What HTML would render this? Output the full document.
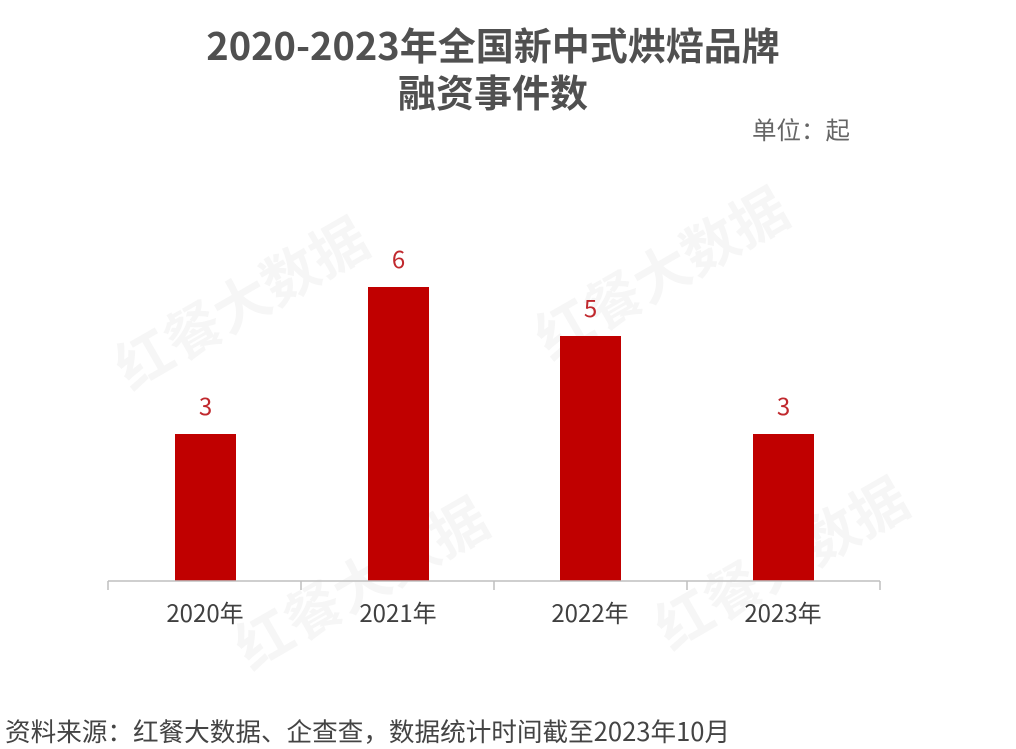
<!DOCTYPE html>
<html><head><meta charset="utf-8"><style>
body{margin:0;width:1016px;height:748px;background:#fff;position:relative;overflow:hidden;font-family:"Noto Sans CJK SC","Liberation Sans",sans-serif}
.t{position:absolute;left:0;width:986px;text-align:center;font-weight:bold;font-size:38px;line-height:46px;color:#505050}
.a{position:absolute;font-size:24px;line-height:30px;color:#444;white-space:nowrap}
.bar{position:absolute;background:#c00000;width:61px}
.v{position:absolute;width:61px;text-align:center;font-size:24px;line-height:30px;color:#c0282d}
.x{position:absolute;width:160px;text-align:center;font-size:24px;line-height:30px;color:#404040}
.wm{position:absolute;font-size:56px;font-weight:bold;color:rgba(0,0,0,0.035);transform:rotate(-30deg)}
</style></head><body>
<div class="wm" style="left:100px;top:260px">红餐大数据</div>
<div class="wm" style="left:520px;top:230px">红餐大数据</div>
<div class="wm" style="left:220px;top:540px">红餐大数据</div>
<div class="wm" style="left:640px;top:520px">红餐大数据</div>
<div class="t" style="top:21px">2020-2023年全国新中式烘焙品牌</div>
<div class="t" style="top:68px">融资事件数</div>
<div class="a" style="left:752px;top:115px;color:#666;font-size:24.5px">单位：起</div>
<div class="bar" style="left:175px;top:434px;height:147px"></div>
<div class="bar" style="left:368px;top:287px;height:294px"></div>
<div class="bar" style="left:560px;top:336px;height:245px"></div>
<div class="bar" style="left:753px;top:434px;height:147px"></div>
<div class="v" style="left:175px;top:390px">3</div>
<div class="v" style="left:368px;top:243px">6</div>
<div class="v" style="left:560px;top:292px">5</div>
<div class="v" style="left:753px;top:390px">3</div>
<svg style="position:absolute;left:0;top:0" width="1016" height="748">
<g stroke="#bfbfbf" stroke-width="1.5"><line x1="108" y1="581" x2="880" y2="581"/>
<line x1="108" y1="581" x2="108" y2="590"/><line x1="301" y1="581" x2="301" y2="590"/><line x1="494" y1="581" x2="494" y2="590"/><line x1="687" y1="581" x2="687" y2="590"/><line x1="880" y1="581" x2="880" y2="590"/></g></svg>
<div class="x" style="left:125px;top:597px">2020年</div>
<div class="x" style="left:318px;top:597px">2021年</div>
<div class="x" style="left:510px;top:597px">2022年</div>
<div class="x" style="left:703px;top:597px">2023年</div>
<div class="a" style="left:5px;top:716px;font-size:25.6px">资料来源：红餐大数据、企查查，数据统计时间截至2023年10月</div>
</body></html>
